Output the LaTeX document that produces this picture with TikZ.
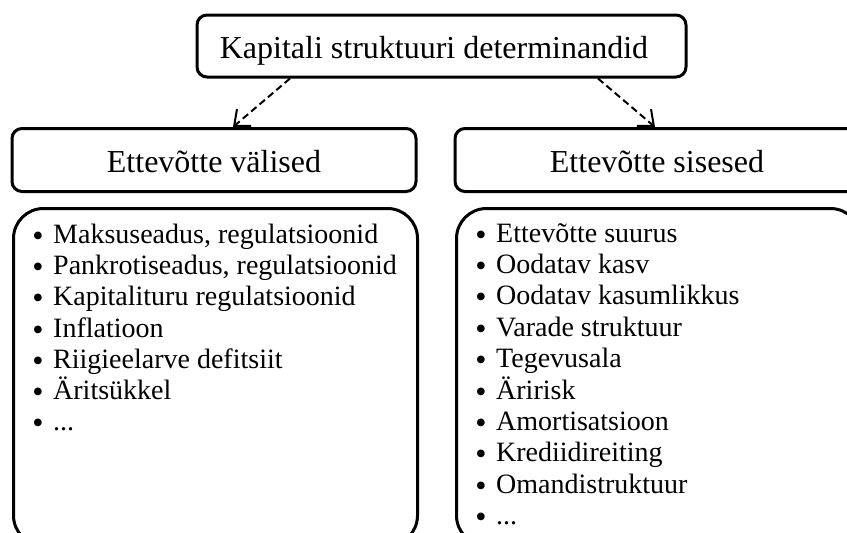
\documentclass[tikz,border=0pt]{standalone}
\usepackage{fontspec}
\setmainfont{Liberation Serif}
\usetikzlibrary{arrows.meta,calc}
\newcommand\mydots{...}
\begin{document}
\begin{tikzpicture}[x=1pt,y=-1pt,
  box/.style={draw, line width=3pt, rounded corners=10pt, inner sep=0pt},
  hdr/.style={box, font=\fontsize{32}{38}\selectfont, text height=27pt, text depth=1.6pt,
              minimum height=63pt, minimum width=404pt},
  listbox/.style={draw, line width=3pt, rounded corners=30pt, inner sep=0pt,
              minimum width=404pt, minimum height=337pt, anchor=north west},
  itemtext/.style={font=\fontsize{28}{32}\selectfont, anchor=base west, inner sep=0pt},
  bul/.style={font=\fontsize{32}{32}\selectfont, anchor=base, inner sep=0pt, yshift=-3pt},
  conn/.style={line width=2pt, dash pattern=on 7pt off 4pt,
               -{Straight Barb[length=13pt,width=22pt,line width=2pt]}}
]
\path[use as bounding box] (0,0) rectangle (847,533);
\clip (0,0) rectangle (847,533);

% top box
\node[hdr, minimum width=489pt, minimum height=62pt] (top) at (441.5,46)
  {\hspace*{-15pt}Kapitali struktuuri determinandid};

% second level
\node[hdr] (ext) at (214,160) {Ettevõtte välised};
\node[hdr] (int) at (657,160) {Ettevõtte sisesed};

% list boxes
\node[listbox] (extlist) at (12,207) {};
\node[listbox] (intlist) at (455,207) {};

% connectors
\draw[conn] ($(top.south)+(-151.5,0)$) -- ($(ext.north)+(19,0)$);
\draw[conn] ($(top.south)+(156.5,0)$) -- ($(int.north)+(-2,0)$);

% left items
\foreach \t [count=\i] in {{Maksuseadus, regulatsioonid},{Pankrotiseadus, regulatsioonid},
  {Kapitalituru regulatsioonid},{Inflatioon},{Riigieelarve defitsiit},{Äritsükkel},{\mydots}}{
  \node[bul] (lb\i) at (38,{243.5+31.2*(\i-1)}) {•};
  \node[itemtext] (l\i) at (53,{243.5+31.2*(\i-1)}) {\t};
}

% right items
\foreach \t [count=\i] in {{Ettevõtte suurus},{Oodatav kasv},{Oodatav kasumlikkus},
  {Varade struktuur},{Tegevusala},{Äririsk},{Amortisatsioon},{Krediidireiting},
  {Omandistruktuur},{\mydots}}{
  \node[bul] (rb\i) at (481,{242+31.4*(\i-1)}) {•};
  \node[itemtext] (r\i) at (496,{242+31.4*(\i-1)}) {\t};
}
\end{tikzpicture}
\end{document}
